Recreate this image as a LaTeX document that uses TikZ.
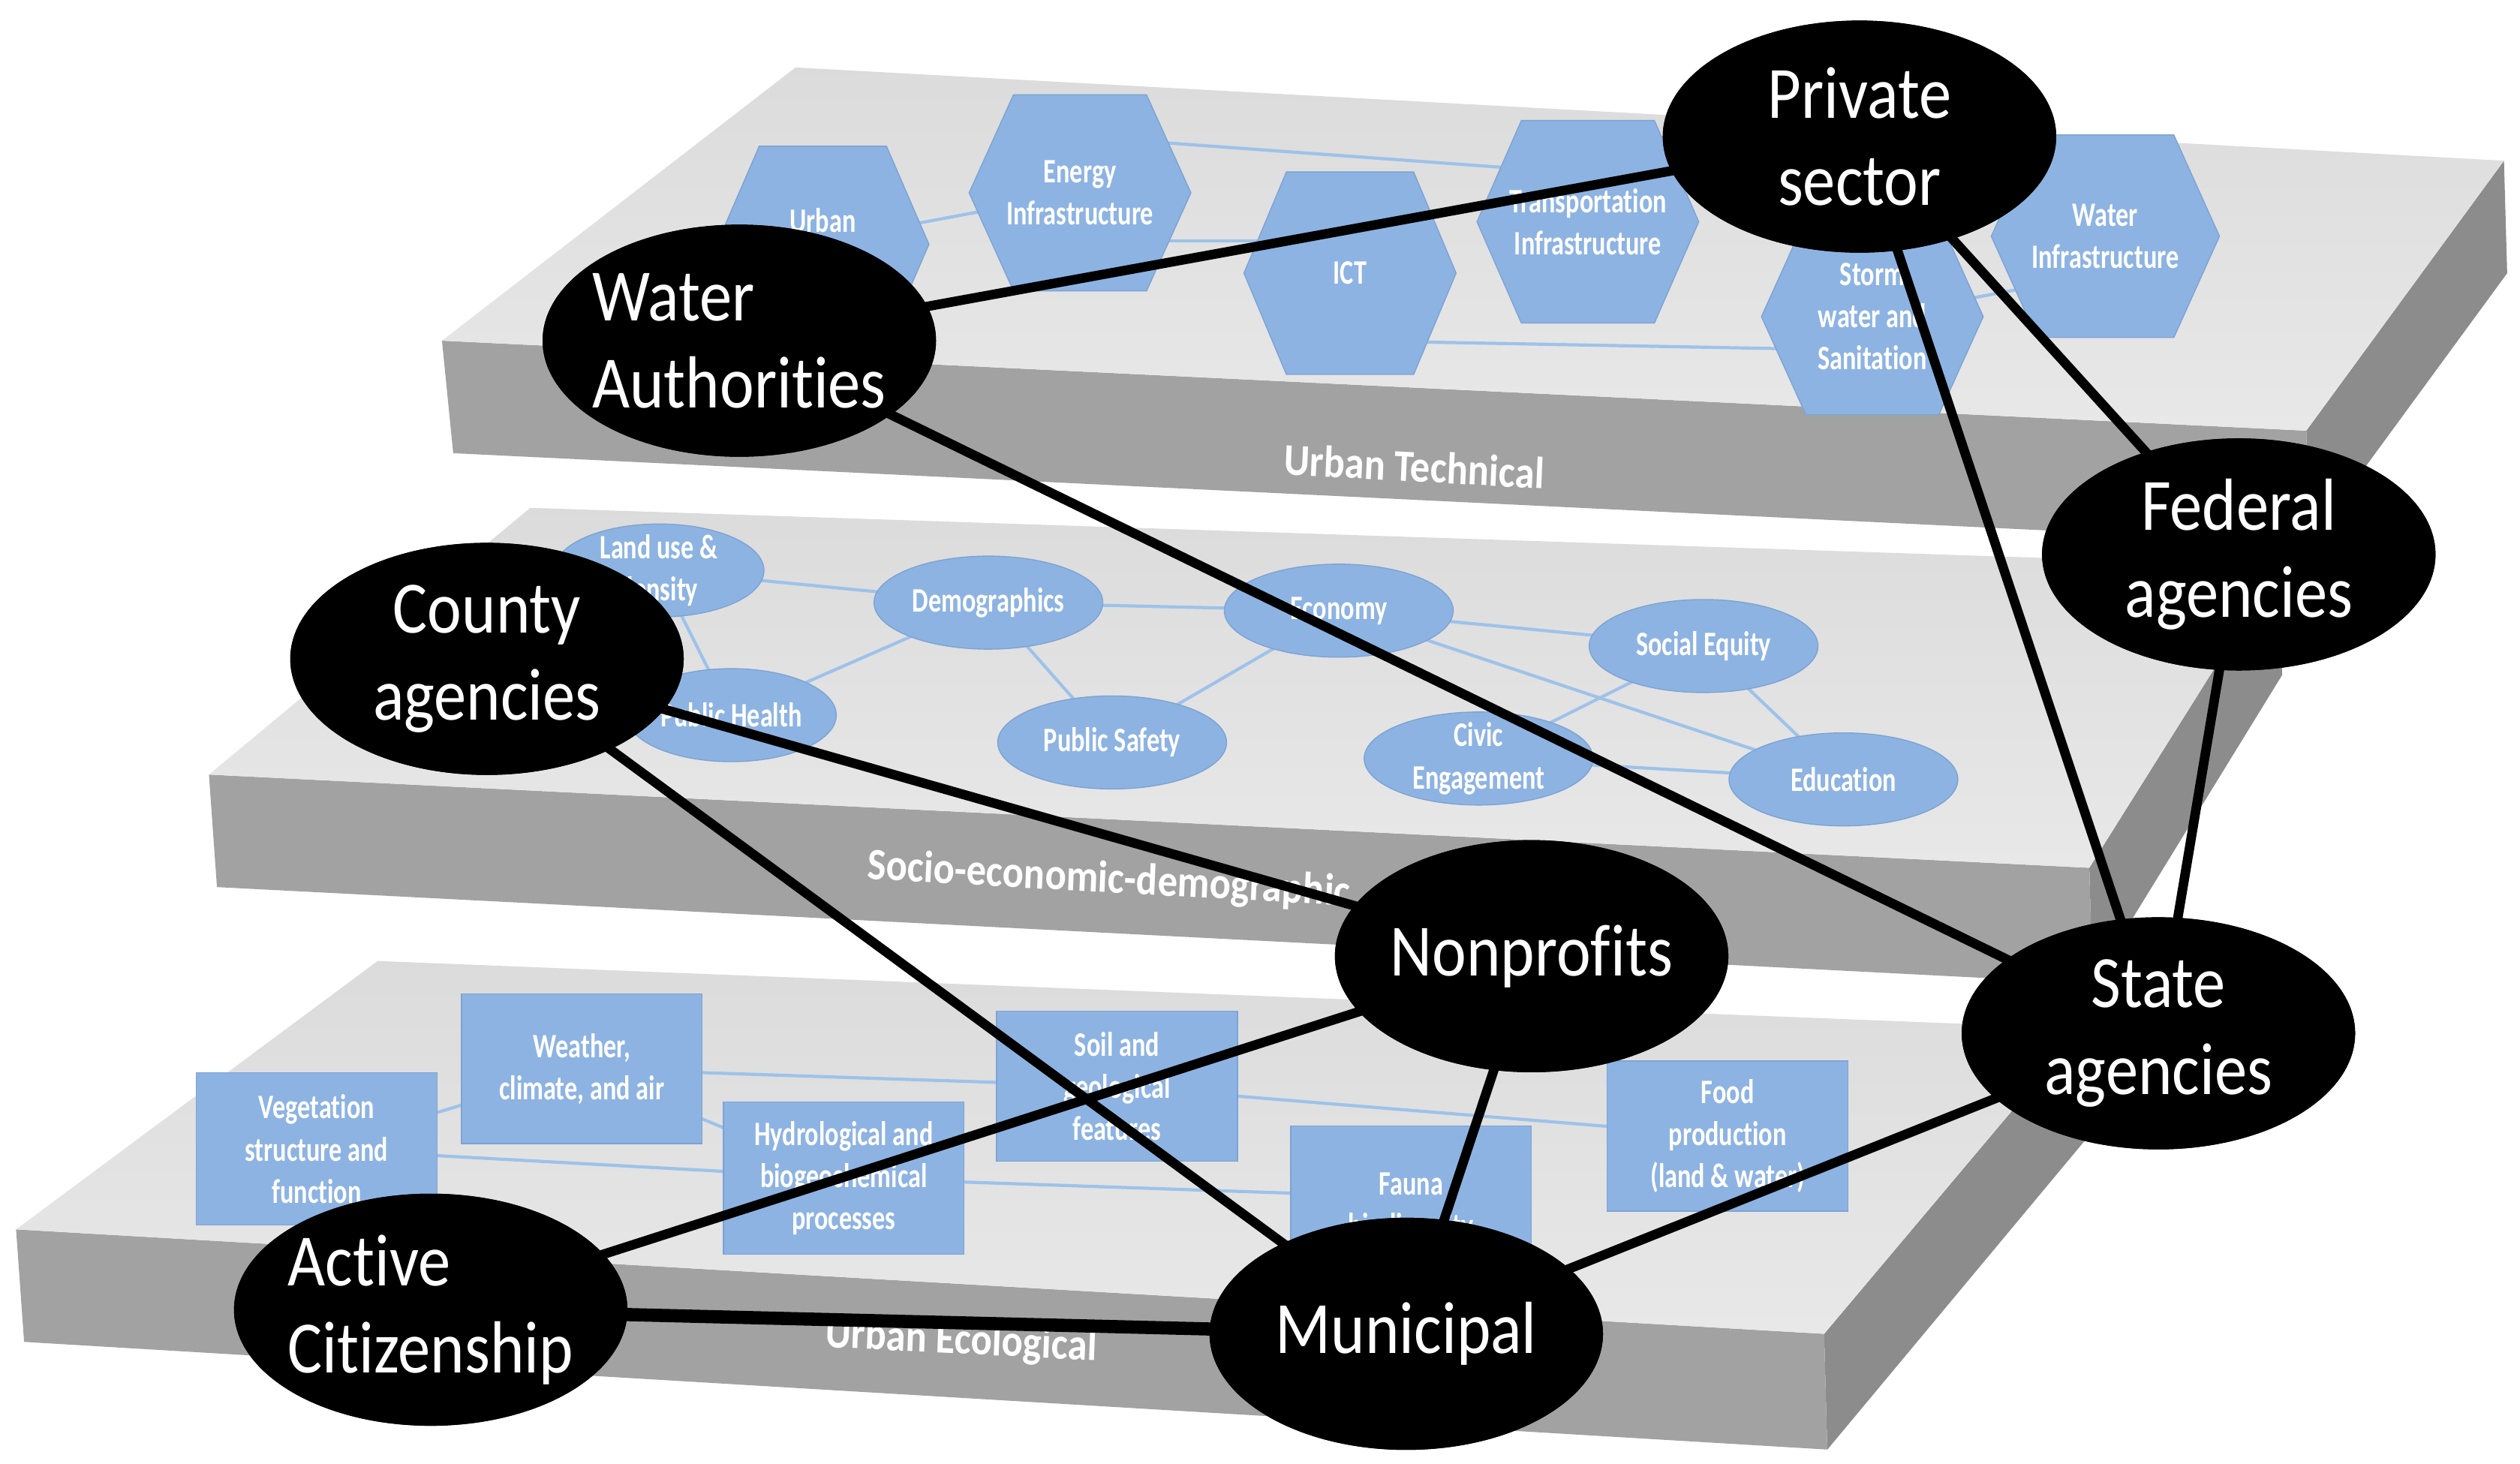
\documentclass[tikz,border=0pt]{standalone}
\usepackage{fontspec}
\setmainfont[Ligatures=NoCommon]{Carlito}
\usetikzlibrary{shapes.geometric}
\definecolor{bl}{HTML}{8DB3E2}
\definecolor{bld}{HTML}{7DA3D3}
\definecolor{lnk}{HTML}{9EC2EA}
\definecolor{frontf}{HTML}{A2A2A2}
\definecolor{sidef}{HTML}{8C8C8C}
\tikzset{
 actor/.style={ellipse,fill=black,draw=black,minimum width=5.23cm,minimum height=3.08cm,inner sep=0pt},
 actortxt/.style={text=white,font=\fontsize{28}{33}\selectfont,align=center,xscale=0.88,transform shape},
 tie/.style={line width=3.6pt,black},
 blob/.style={ellipse,fill=bl,draw=bld,minimum width=3.05cm,minimum height=1.24cm,inner sep=0pt},
 box/.style={rectangle,fill=bl,draw=bld,minimum width=3.21cm,minimum height=2.03cm,inner sep=0pt},
 smalltxt/.style={text=white,font=\bfseries\fontsize{13}{16}\selectfont,align=center,xscale=0.75,transform shape},
 link/.style={lnk,line width=1.2pt},
 slabtxt/.style={text=white,font=\bfseries\fontsize{17}{20}\selectfont,xscale=0.88,transform shape},
 hexf/.style={fill=bl,draw=bld},
 slabtop/.style={top color=gray!28,bottom color=gray!18},
}
\newcommand{\hexa}[6]{% name cx cy w h text
 \fill[hexf] ({#2-0.3*#4},{#3-#5/2}) -- ({#2+0.3*#4},{#3-#5/2}) -- ({#2+#4/2},#3) -- ({#2+0.3*#4},{#3+#5/2}) -- ({#2-0.3*#4},{#3+#5/2}) -- ({#2-#4/2},#3) -- cycle;
 \node[smalltxt] (#1) at (#2,#3) {#6};}
\begin{document}
\begin{tikzpicture}[x=0.021416cm,y=-0.021416cm]
\useasboundingbox (0,0) rectangle (1568,911);
\fill[white] (0,0) rectangle (1568,911);
% ---------- bottom slab ----------
\fill[sidef] (1135,830) -- (1295,640) -- (1297,710) -- (1137,902) -- cycle;
\fill[frontf] (10,765) -- (1135,830) -- (1137,902) -- (15,835) -- cycle;
\shade[slabtop] (235,598) -- (1295,640) -- (1135,830) -- (10,765) -- cycle;
\coordinate (cveg) at (197,715);
\coordinate (cwea) at (362,665);
\coordinate (chyd) at (525,733);
\coordinate (csoil) at (695,676);
\coordinate (cfau) at (878,745);
\coordinate (cfood) at (1075,707);
\draw[link] (cwea) -- (csoil);
\draw[link] (cveg) -- (cwea);
\draw[link] (cwea) -- (chyd);
\draw[link] (cveg) -- (chyd);
\draw[link] (chyd) -- (cfau);
\draw[link] (csoil) -- (cfood);
\node[box] (veg) at (cveg) {};
\node[box,minimum height=2.0cm] (wea) at (cwea) {};
\node[box] (hyd) at (chyd) {};
\node[box,minimum height=2.0cm] (soil) at (csoil) {};
\node[box,minimum height=1.9cm] (fauna) at (cfau) {};
\node[box,minimum height=2.0cm] (food) at (cfood) {};
\node[smalltxt] at (cveg) {Vegetation\\structure and\\function};
\node[smalltxt] at (cwea) {Weather,\\climate, and air};
\node[smalltxt] at (chyd) {Hydrological and\\biogeochemical\\processes};
\node[smalltxt] at (csoil) {Soil and\\geological\\features};
\node[smalltxt] at ([yshift=-4pt]cfau) {Fauna\\biodiversity};
\node[smalltxt] at (cfood) {Food\\production\\(land \& water)};
\node[slabtxt,rotate=-2.5] (ecol) at (598,835) {Urban Ecological};
% ---------- middle slab ----------
\fill[sidef] (1300,540) -- (1418,352) -- (1420,420) -- (1302,612) -- cycle;
\fill[frontf] (130,482) -- (1300,540) -- (1302,612) -- (135,552) -- cycle;
\shade[slabtop] (330,316) -- (1418,352) -- (1300,540) -- (130,482) -- cycle;
\coordinate (cland) at (410,355);
\coordinate (cdemo) at (615,375);
\coordinate (cecon) at (833,380);
\coordinate (csoc) at (1060,402);
\coordinate (cph) at (455,445);
\coordinate (cps) at (692,462);
\coordinate (cciv) at (920,472);
\coordinate (cedu) at (1147,485);
\draw[link] (cland) -- (cdemo);
\draw[link] (cland) -- (cph);
\draw[link] (cdemo) -- (cph);
\draw[link] (cdemo) -- (cecon);
\draw[link] (cdemo) -- (cps);
\draw[link] (cecon) -- (cps);
\draw[link] (cecon) -- (csoc);
\draw[link] (cecon) -- (cedu);
\draw[link] (csoc) -- (cciv);
\draw[link] (csoc) -- (cedu);
\draw[link] (cciv) -- (cedu);
\node[blob,minimum width=2.8cm] (land) at (cland) {};
\node[blob] (demo) at (cdemo) {};
\node[blob] (econ) at (cecon) {};
\node[blob] (soc) at (csoc) {};
\node[blob,minimum width=2.8cm] (ph) at (cph) {};
\node[blob] (ps) at (cps) {};
\node[blob] (civ) at (cciv) {};
\node[blob] (edu) at (cedu) {};
\node[smalltxt] at (cland) {Land use \&\\density};
\node[smalltxt] at (cdemo) {Demographics};
\node[smalltxt] at (cecon) {Economy};
\node[smalltxt] at (csoc) {Social Equity};
\node[smalltxt] at (cph) {Public Health};
\node[smalltxt] at (cps) {Public Safety};
\node[smalltxt] at (cciv) {Civic\\Engagement};
\node[smalltxt] at (cedu) {Education};
\node[slabtxt,rotate=-2.8] (socio) at (690,548) {Socio-economic-demographic};
% ---------- top slab ----------
\fill[sidef] (1435,268) -- (1558,100) -- (1560,170) -- (1437,338) -- cycle;
\fill[frontf] (275,212) -- (1435,268) -- (1437,338) -- (282,282) -- cycle;
\shade[slabtop] (495,42) -- (1558,100) -- (1435,268) -- (275,212) -- cycle;
\draw[link] (672,85) -- (988,108);
\draw[link] (512,150) -- (672,120);
\draw[link] (672,150) -- (840,150);
\draw[link] (840,212) -- (1165,218);
\draw[link] (1165,197) -- (1310,170);
\hexa{urb}{512}{152}{132}{122}{Urban\\green}
\hexa{ene}{672}{120}{138}{122}{Energy\\Infrastructure}
\hexa{ict}{840}{170}{132}{126}{ICT}
\hexa{tra}{988}{138}{138}{126}{Transportation\\Infrastructure}
\hexa{sto}{1165}{197}{138}{122}{Storm\\water and\\Sanitation}
\hexa{wat}{1310}{147}{142}{126}{Water\\Infrastructure}
\node[slabtxt,rotate=-2.8] (tech) at (880,290) {Urban Technical};
% ---------- actors ----------
\node[actor] (P) at (1157,85) {};
\node[actor] (W) at (460,212) {};
\node[actor] (F) at (1393,345) {};
\node[actor] (C) at (303,410) {};
\node[actor] (N) at (953,595) {};
\node[actor] (S) at (1343,643) {};
\node[actor] (A) at (268,815) {};
\node[actor] (M) at (875,830) {};
\draw[tie] (W.center) -- (P.center);
\draw[tie] (P.center) -- (F.center);
\draw[tie] (P.center) -- (S.center);
\draw[tie] (F.center) -- (S.center);
\draw[tie] (W.center) -- (S.center);
\draw[tie] (C.center) -- (N.center);
\draw[tie] (C.center) -- (M.center);
\draw[tie] (N.center) -- (A.center);
\draw[tie] (N.center) -- (M.center);
\draw[tie,line width=5pt] (A.center) -- (M.center);
\draw[tie] (M.center) -- (S.center);
\foreach \n in {P,W,F,C,N,S,A,M} \node[actor] at (\n) {};
\node[actortxt] at (P) {Private\\sector};
\node[actortxt,align=left] at (W) {Water\\Authorities};
\node[actortxt] at (F) {Federal\\agencies};
\node[actortxt] at (C) {County\\agencies};
\node[actortxt] at (N) {Nonprofits};
\node[actortxt] at (S) {State\\agencies};
\node[actortxt,align=left] at (A) {Active\\Citizenship};
\node[actortxt] at (M) {Municipal};
\end{tikzpicture}
\end{document}
